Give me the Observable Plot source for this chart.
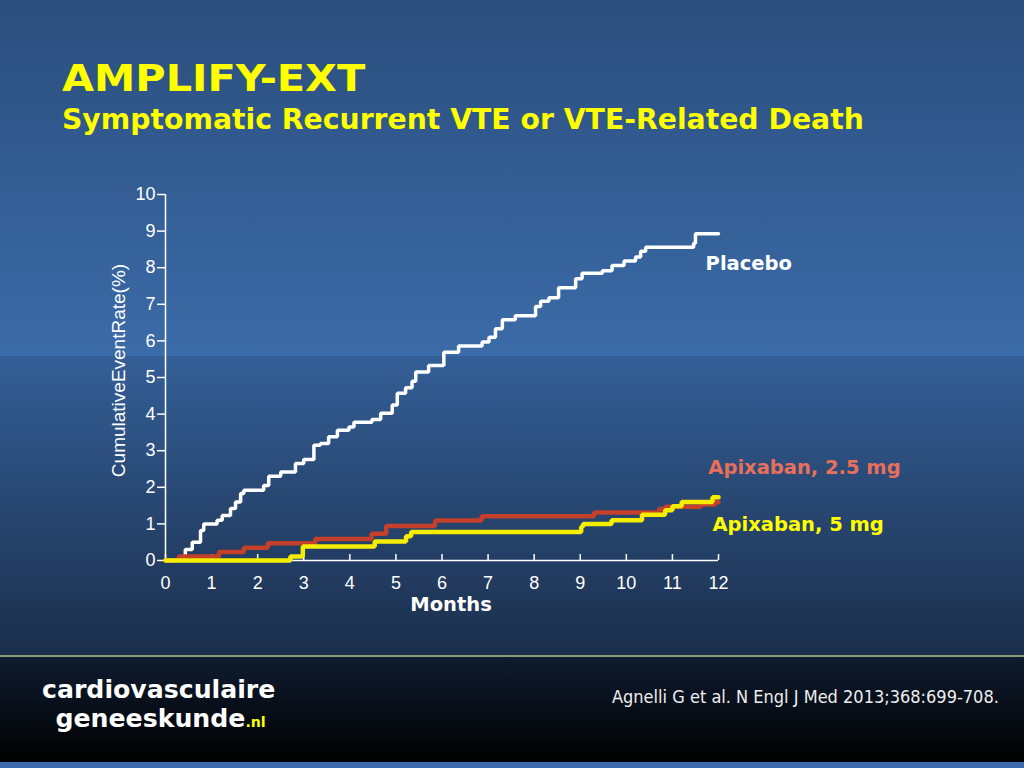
<!DOCTYPE html>
<html>
<head>
<meta charset="utf-8">
<script src="https://cdn.jsdelivr.net/npm/d3@7"></script>
<script src="https://cdn.jsdelivr.net/npm/@observablehq/plot@0.6"></script>
<style>
  html, body { margin: 0; padding: 0; }
  body { width: 1024px; height: 768px; position: relative; overflow: hidden; background: #000; }
  .bg1 { position: absolute; left: 0; top: 0; width: 1024px; height: 356px; background: linear-gradient(#2b4e7d, #3b6ba8); }
  .bg2 { position: absolute; left: 0; top: 356px; width: 1024px; height: 300px; background: linear-gradient(#345f97, #1b2e4b); }
  .sep { position: absolute; left: 0; top: 655px; width: 1024px; height: 2px; background: #8f9d74; }
  .bg3 { position: absolute; left: 0; top: 657px; width: 1024px; height: 105px; background: linear-gradient(#0f1c30, #000); }
  .bg4 { position: absolute; left: 0; top: 762px; width: 1024px; height: 6px; background: #3c6cae; }
  .title { position: absolute; left: 62px; top: 56px; font-family: "DejaVu Sans", sans-serif; font-weight: bold; font-size: 38px; color: #ffff00; white-space: nowrap; transform-origin: 0 0; transform: scaleX(1.09); }
  .subtitle { position: absolute; left: 62px; top: 102px; font-family: "DejaVu Sans", sans-serif; font-weight: bold; font-size: 29px; color: #ffff00; white-space: nowrap; transform-origin: 0 0; transform: scaleX(0.975); }
  #chart { position: absolute; left: 0; top: 170px; }
  .logo { position: absolute; left: 42px; top: 675px; font-family: "DejaVu Sans Condensed", "DejaVu Sans", sans-serif; font-stretch: condensed; font-weight: bold; font-size: 25px; line-height: 29px; color: #ffffff; transform-origin: 0 0; transform: scaleX(1.12); white-space: nowrap; }
  .logo .l2 { padding-left: 12px; }
  .logo .nl { color: #ffff00; font-size: 14px; }
  .cite { position: absolute; left: 612px; top: 686px; font-family: "DejaVu Sans Condensed", "DejaVu Sans", sans-serif; font-stretch: condensed; font-size: 18px; color: #eeeeee; white-space: nowrap; }
</style>
</head>
<body>
<div class="bg1"></div>
<div class="bg2"></div>
<div class="sep"></div>
<div class="bg3"></div>
<div class="bg4"></div>
<div class="title">AMPLIFY-EXT</div>
<div class="subtitle">Symptomatic Recurrent VTE or VTE-Related Death</div>
<div id="chart"></div>
<div class="logo"><div>cardiovasculaire</div><div class="l2">geneeskunde<span class="nl">.nl</span></div></div>
<div class="cite">Agnelli G et al. N Engl J Med 2013;368:699-708.</div>
<script>
const xTicks = [0,1,2,3,4,5,6,7,8,9,10,11,12];
const yTicks = [0,1,2,3,4,5,6,7,8,9,10];

const placeboMonths = [0,0.30,0.43,0.58,0.76,0.83,1.12,1.23,1.41,1.52,1.63,1.70,2.13,2.24,2.50,2.82,3.00,3.22,3.36,3.54,3.73,3.98,4.09,4.48,4.67,4.92,5.03,5.21,5.35,5.43,5.71,6.04,6.36,6.87,7.02,7.16,7.31,7.59,8.03,8.14,8.32,8.53,8.90,9.04,9.48,9.69,9.95,10.20,10.31,10.42,11.46,11.50,12.00];
const placeboRates  = [0,0.10,0.30,0.50,0.82,1.00,1.10,1.23,1.42,1.60,1.83,1.92,2.05,2.30,2.42,2.65,2.76,3.15,3.20,3.38,3.56,3.65,3.78,3.85,4.02,4.25,4.57,4.72,4.90,5.15,5.33,5.69,5.86,5.97,6.10,6.33,6.58,6.69,6.94,7.08,7.18,7.45,7.70,7.85,7.92,8.06,8.18,8.29,8.45,8.56,8.67,8.93,8.93];

const apix25Months = [0,0.29,1.16,1.70,2.22,3.25,4.47,4.79,5.85,6.86,9.30,10.71,10.85,11.62,11.93,12.00];
const apix25Rates  = [0,0.11,0.23,0.35,0.47,0.59,0.73,0.94,1.09,1.21,1.31,1.41,1.47,1.53,1.60,1.60];

const apix5Months = [0,2.71,2.98,4.54,5.22,5.33,9.02,9.06,9.68,10.34,10.84,11.00,11.20,11.87,12.00];
const apix5Rates  = [0,0.11,0.38,0.52,0.66,0.78,0.92,1.00,1.10,1.25,1.37,1.48,1.60,1.73,1.73];

const seriesNames  = ["Placebo", "Apixaban, 2.5 mg", "Apixaban, 5 mg"];
const labelMonths  = [11.72, 11.78, 11.87];
const labelRates   = [8.11, 2.54, 0.98];
const labelColors  = ["#ffffff", "#e8705a", "#ffff00"];

const toRows = (ms, rs) => ms.map((m, i) => ({month: m, rate: rs[i]}));
const placebo = toRows(placeboMonths, placeboRates);
const apix25 = toRows(apix25Months, apix25Rates);
const apix5 = toRows(apix5Months, apix5Rates);
const labels = seriesNames.map((n, i) => ({name: n, month: labelMonths[i], rate: labelRates[i], color: labelColors[i]}));

const chart = Plot.plot({
  width: 1024,
  height: 470,
  marginLeft: 165,
  marginRight: 306,
  marginTop: 24,
  marginBottom: 80,
  style: {background: "transparent", color: "#ffffff", fontFamily: "'Liberation Sans', Arial, sans-serif", fontSize: "18px", overflow: "visible"},
  x: {domain: [0, 12], axis: null},
  y: {domain: [0, 10], axis: null},
  marks: [
    Plot.axisY({ticks: yTicks, tickSize: 8, tickPadding: 2, label: null, stroke: "#ffffff", fill: "#ffffff", fontSize: 18, strokeWidth: 1.5}),
    Plot.axisX({ticks: xTicks, tickSize: 6, dy: -6, tickFormat: () => "", label: null, stroke: "#ffffff", strokeWidth: 1.5}),
    Plot.axisX({ticks: xTicks, tickSize: 0, tickPadding: 16, label: null, fill: "#ffffff", fontSize: 18}),
    Plot.ruleY([0], {stroke: "#ffffff", strokeWidth: 1.5}),
    Plot.ruleX([0], {stroke: "#ffffff", strokeWidth: 1.5}),
    Plot.line(placebo, {x: "month", y: "rate", curve: "step-after", stroke: "#ffffff", strokeWidth: 3.5, strokeLinejoin: "miter"}),
    Plot.line(apix25, {x: "month", y: "rate", curve: "step-after", stroke: "#c4402a", strokeWidth: 4.5, strokeLinejoin: "miter"}),
    Plot.line(apix5, {x: "month", y: "rate", curve: "step-after", stroke: "#f6ee00", strokeWidth: 4.5, strokeLinejoin: "miter"}),
    Plot.text(labels, {x: "month", y: "rate", text: "name", fill: "color", textAnchor: "start", fontWeight: "bold", fontSize: 19.5, fontFamily: "'DejaVu Sans', sans-serif"}),
    Plot.text(["CumulativeEventRate(%)"], {frameAnchor: "left", dx: -47, dy: -7, rotate: -90, textAnchor: "middle", fill: "#ffffff", fontSize: 19}),
    Plot.text(["Months"], {frameAnchor: "bottom", dx: 9, dy: 50, fill: "#ffffff", fontWeight: "bold", fontSize: 19.5, fontFamily: "'DejaVu Sans', sans-serif"})
  ]
});
document.getElementById("chart").appendChild(chart);
</script>
</body>
</html>
